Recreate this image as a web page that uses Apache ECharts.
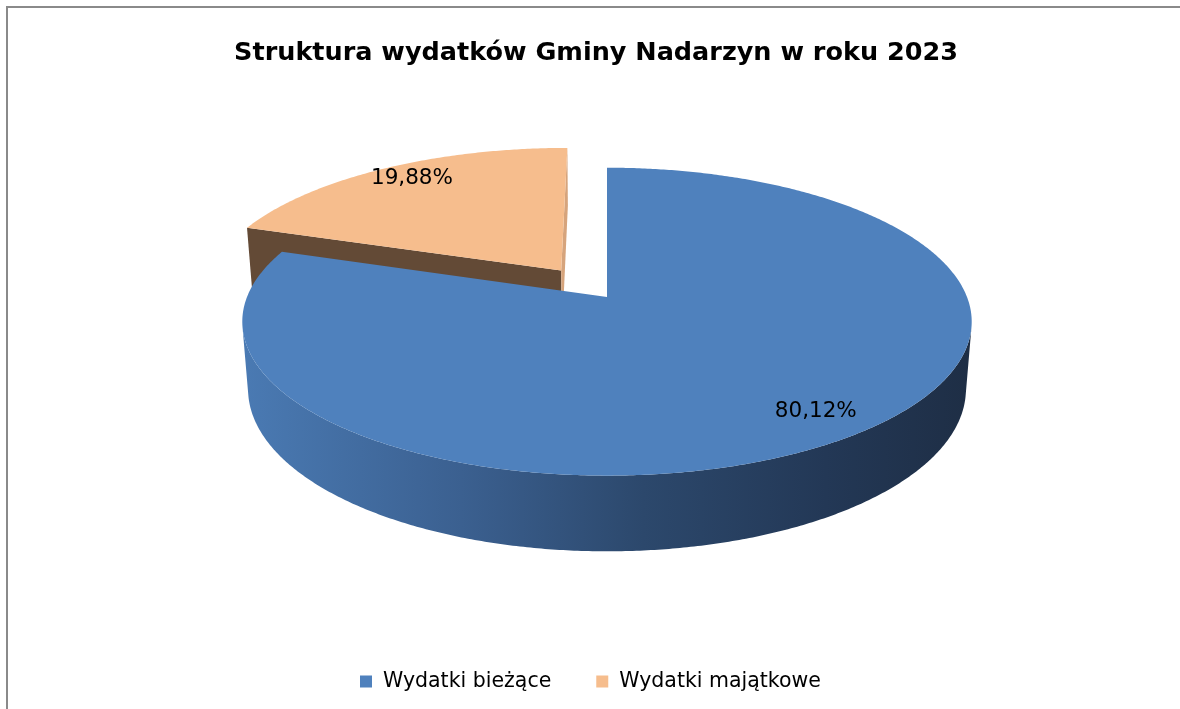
<!DOCTYPE html>
<html>
<head>
<meta charset="utf-8">
<script src="https://cdn.jsdelivr.net/npm/echarts@6/dist/echarts.min.js"></script>
<style>
html,body{margin:0;padding:0;background:#fff;}
#chart{width:1180px;height:709px;}
</style>
</head>
<body>
<div id="chart"></div>
<script>
// ---- data ----
const categories = ['Wydatki bieżące', 'Wydatki majątkowe'];
const values = [80.12, 19.88];
const valueLabels = ['80,12%', '19,88%'];
const explodeFrac = [0, 0.224];
const titleText = 'Struktura wydatków Gminy Nadarzyn w roku 2023';

// ---- styles ----
const topColors = ['#4F81BD', '#F6BD8D'];
const startFaceColors = ['#3A5F8C', '#634A36'];
const endFaceColors = ['#3A5F8C', '#D6A47C'];
const sideStops = [
  [{offset:0,color:'#4A7AB3'},{offset:0.3,color:'#3B6090'},{offset:0.55,color:'#2C486C'},{offset:0.8,color:'#233856'},{offset:1,color:'#1E2E45'}],
  [{offset:0,color:'#C8996F'},{offset:1,color:'#7A5A3E'}]
];
const FONT = '"DejaVu Sans", Verdana, sans-serif';

// ---- 3D pie projection ----
const TH = 25 * Math.PI / 180, DIST = 5.66, THICK = 0.21;
const CX = 607, CY = 297, KX = 360, KY = 355;
const camY = DIST * Math.sin(TH), camZ = DIST * Math.cos(TH);
function proj(X, Y, Z) {
  const yUp = Y * Math.cos(TH) - Z * Math.sin(TH);
  const depth = Y * Math.sin(TH) + Z * Math.cos(TH);
  const s = DIST / (DIST - depth);
  return [CX + KX * X * s, CY - KY * yUp * s];
}
function rimPt(phi, r, ox, oz, Y) {
  return proj(ox + r * Math.sin(phi), Y, oz - r * Math.cos(phi));
}
const total = values.reduce((a, b) => a + b, 0);

function makeRender(i) {
  return function (params, api) {
    let before = 0;
    for (let k = 0; k < i; k++) before += values[k];
    const a0 = before / total * 2 * Math.PI;
    const a1 = (before + values[i]) / total * 2 * Math.PI;
    const mid = (a0 + a1) / 2;
    const e = explodeFrac[i];
    const ox = e * Math.sin(mid), oz = -e * Math.cos(mid);
    const children = [];
    const step = Math.PI / 360;

    // cut faces
    const faces = [[a0, -1, startFaceColors[i]], [a1, 1, endFaceColors[i]]];
    faces.forEach(function (f) {
      const a = f[0], sg = f[1];
      const n = [sg * Math.cos(a), 0, sg * Math.sin(a)];
      const dot = n[0] * (0 - ox) + n[1] * camY + n[2] * (camZ - oz);
      if (dot > 1e-3) {
        children.push({
          type: 'polygon',
          shape: { points: [proj(ox, 0, oz), rimPt(a, 1, ox, oz, 0), rimPt(a, 1, ox, oz, -THICK), proj(ox, -THICK, oz)] },
          style: { fill: f[2] }
        });
      }
    });

    // outer side wall, visible parts
    function visible(phi) {
      const nx = Math.sin(phi), nz = -Math.cos(phi);
      const px = ox + nx, pz = oz + nz;
      return nx * (0 - px) + nz * (camZ - pz) > 0;
    }
    let seg = null;
    const segs = [];
    for (let p = a0; p <= a1 + 1e-9; p += step) {
      const pp = Math.min(p, a1);
      if (visible(pp)) { if (!seg) { seg = []; segs.push(seg); } seg.push(pp); }
      else seg = null;
    }
    segs.forEach(function (sgm) {
      if (sgm.length < 2) return;
      const pts = [];
      sgm.forEach(function (p) { pts.push(rimPt(p, 1, ox, oz, 0)); });
      for (let k = sgm.length - 1; k >= 0; k--) pts.push(rimPt(sgm[k], 1, ox, oz, -THICK));
      children.push({
        type: 'polygon',
        shape: { points: pts },
        style: { fill: new echarts.graphic.LinearGradient(0, 0, 1, 0, sideStops[i]) }
      });
    });

    // top face
    const topPts = [proj(ox, 0, oz)];
    for (let p = a0; p < a1; p += step) topPts.push(rimPt(p, 1, ox, oz, 0));
    topPts.push(rimPt(a1, 1, ox, oz, 0));
    children.push({ type: 'polygon', shape: { points: topPts }, style: { fill: topColors[i] } });

    // label
    const lp = rimPt(mid, 0.86, ox, oz, 0);
    children.push({
      type: 'text',
      x: lp[0] + 5, y: lp[1] - 3,
      style: { text: valueLabels[i], fill: '#000', font: '21.5px ' + FONT, align: 'center', verticalAlign: 'middle' }
    });
    return { type: 'group', children: children };
  };
}

const drawOrder = [1, 0];
const series = drawOrder.map(function (i) {
  return {
    type: 'custom',
    name: categories[i],
    coordinateSystem: 'none',
    itemStyle: { color: topColors[i] },
    data: [[values[i]]],
    renderItem: makeRender(i),
    silent: true
  };
});

const chart = echarts.init(document.getElementById('chart'), null, { renderer: 'canvas' });
chart.setOption({
  backgroundColor: '#ffffff',
  animation: false,
  title: {
    text: titleText,
    left: 591, top: 35, textAlign: 'center',
    textStyle: { fontFamily: FONT, fontWeight: 'bold', fontSize: 25.5, color: '#000' }
  },
  legend: {
    data: categories,
    left: 355, top: 666,
    icon: 'rect', itemWidth: 12, itemHeight: 12, itemGap: 45,
    textStyle: { fontFamily: FONT, fontSize: 20.5, color: '#000', padding: [0, 0, 0, 6] }
  },
  graphic: [{
    type: 'rect', silent: true, z: 100,
    shape: { x: 7, y: 7, width: 1400, height: 900 },
    style: { fill: 'none', stroke: '#8a8a8a', lineWidth: 2 }
  }],
  series: series
});
</script>
</body>
</html>
